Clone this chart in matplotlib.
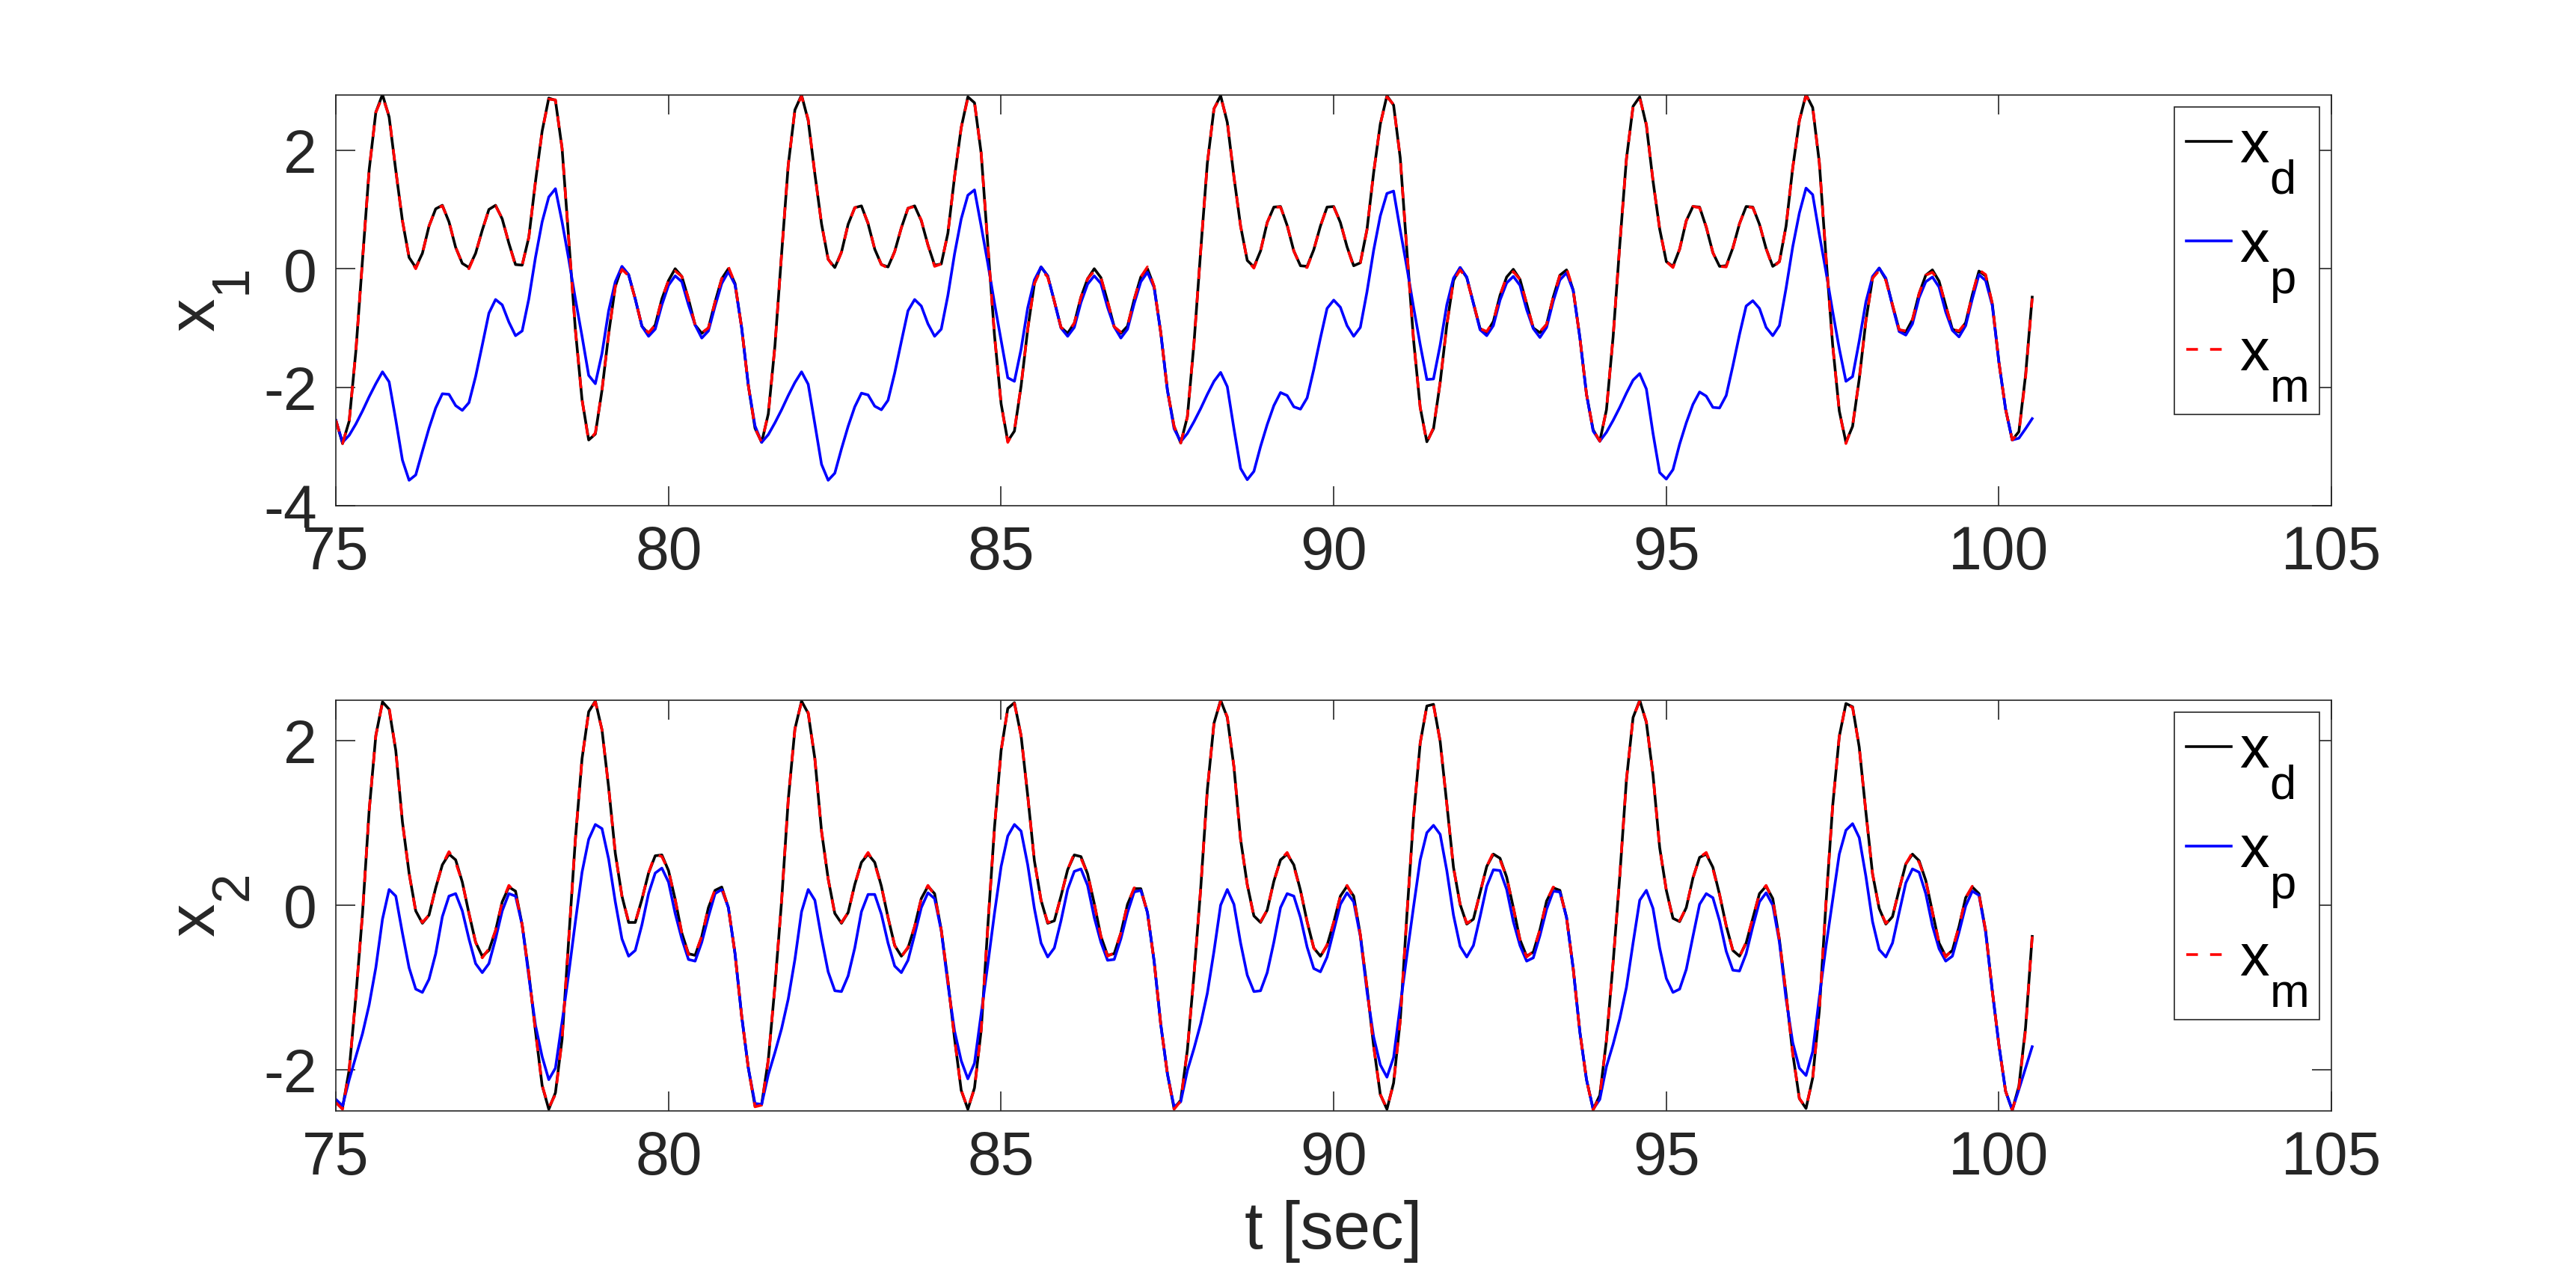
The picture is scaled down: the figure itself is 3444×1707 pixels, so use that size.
import numpy as np
import matplotlib
matplotlib.use("Agg")
import matplotlib.pyplot as plt
import matplotlib._mathtext as mathtext_internal

# sampled signals, t = 75.0 ... 100.5 in steps of 0.1 s
t_start = 75.0
dt = 0.1

x1_d = [
    -2.56, -2.95, -2.57, -1.39, 0.15, 1.67, 2.64, 2.94, 2.56, 1.66,
    0.81, 0.19, 0.02, 0.26, 0.72, 1.01, 1.07, 0.79, 0.36, 0.09,
    0.02, 0.26, 0.65, 1.00, 1.07, 0.84, 0.43, 0.07, 0.06, 0.53,
    1.47, 2.32, 2.88, 2.84, 2.03, 0.50, -1.03, -2.21, -2.89, -2.79,
    -2.05, -1.10, -0.30, 0.03, -0.10, -0.51, -0.97, -1.10, -0.95, -0.51,
    -0.20, 0.00, -0.13, -0.51, -0.95, -1.09, -1.00, -0.56, -0.17, 0.00,
    -0.25, -1.00, -1.97,
    -2.69, -2.93, -2.45, -1.30, 0.25, 1.75, 2.68, 2.93, 2.50, 1.60,
    0.76, 0.16, 0.02, 0.28, 0.75, 1.03, 1.06, 0.76, 0.33, 0.07,
    0.03, 0.29, 0.69, 1.02, 1.06, 0.81, 0.40, 0.06, 0.08, 0.60,
    1.55, 2.38, 2.90, 2.80, 1.95, 0.40, -1.12, -2.28, -2.91, -2.74,
    -1.98, -1.02, -0.25, 0.03, -0.12, -0.55, -0.99, -1.09, -0.92, -0.48,
    -0.17, 0.00, -0.15, -0.55, -0.98, -1.09, -0.97, -0.52, -0.14, 0.00,
    -0.30, -1.08, -2.05,
    -2.66, -2.94, -2.50, -1.25, 0.30, 1.78, 2.70, 2.92, 2.47, 1.55,
    0.72, 0.14, 0.03, 0.30, 0.78, 1.04, 1.05, 0.73, 0.30, 0.05,
    0.04, 0.32, 0.72, 1.04, 1.05, 0.78, 0.37, 0.05, 0.10, 0.66,
    1.62, 2.44, 2.92, 2.76, 1.87, 0.30, -1.20, -2.34, -2.92, -2.70,
    -1.92, -0.95, -0.20, 0.02, -0.15, -0.58, -1.01, -1.08, -0.89, -0.45,
    -0.14, -0.01, -0.18, -0.59, -1.00, -1.08, -0.94, -0.48, -0.11, -0.02,
    -0.36, -1.16, -2.12,
    -2.72, -2.91, -2.38, -1.15, 0.40, 1.85, 2.74, 2.90, 2.42, 1.48,
    0.67, 0.12, 0.04, 0.33, 0.81, 1.05, 1.04, 0.70, 0.27, 0.04,
    0.05, 0.35, 0.76, 1.05, 1.04, 0.75, 0.34, 0.04, 0.12, 0.72,
    1.70, 2.50, 2.94, 2.72, 1.79, 0.20, -1.28, -2.40, -2.93, -2.66,
    -1.86, -0.88, -0.16, 0.01, -0.18, -0.61, -1.03, -1.07, -0.86, -0.42,
    -0.11, -0.02, -0.21, -0.62, -1.02, -1.07, -0.91, -0.44, -0.04, -0.12,
    -0.59, -1.58, -2.37,
    -2.89, -2.75, -1.80, -0.48,
]

x1_p = [
    -2.56, -2.93, -2.81, -2.62, -2.40, -2.16, -1.94, -1.74, -1.91, -2.55,
    -3.23, -3.57, -3.48, -3.08, -2.69, -2.35, -2.11, -2.12, -2.31, -2.39,
    -2.26, -1.82, -1.29, -0.75, -0.52, -0.61, -0.90, -1.13, -1.05, -0.51,
    0.19, 0.79, 1.21, 1.35, 0.79, 0.16, -0.51, -1.14, -1.80, -1.94,
    -1.43, -0.71, -0.22, 0.04, -0.10, -0.51, -0.97, -1.14, -1.02, -0.61,
    -0.28, -0.12, -0.22, -0.61, -0.95, -1.17, -1.05, -0.63, -0.25, -0.05,
    -0.27, -1.00, -1.97,
    -2.65, -2.93, -2.80, -2.60, -2.38, -2.14, -1.92, -1.74, -1.95, -2.62,
    -3.30, -3.57, -3.45, -3.04, -2.66, -2.33, -2.10, -2.13, -2.32, -2.38,
    -2.22, -1.76, -1.23, -0.71, -0.52, -0.63, -0.93, -1.14, -1.02, -0.45,
    0.25, 0.84, 1.24, 1.33, 0.72, 0.09, -0.58, -1.21, -1.84, -1.90,
    -1.36, -0.66, -0.19, 0.03, -0.12, -0.55, -1.00, -1.14, -0.99, -0.57,
    -0.26, -0.12, -0.25, -0.65, -0.98, -1.17, -1.02, -0.59, -0.22, -0.06,
    -0.32, -1.08, -2.05,
    -2.70, -2.92, -2.78, -2.58, -2.36, -2.12, -1.90, -1.75, -1.99, -2.70,
    -3.37, -3.56, -3.42, -3.00, -2.63, -2.31, -2.09, -2.14, -2.33, -2.37,
    -2.18, -1.70, -1.17, -0.67, -0.53, -0.65, -0.96, -1.14, -0.99, -0.39,
    0.31, 0.89, 1.27, 1.31, 0.65, 0.02, -0.65, -1.28, -1.87, -1.86,
    -1.29, -0.61, -0.16, 0.02, -0.14, -0.59, -1.03, -1.13, -0.96, -0.53,
    -0.24, -0.13, -0.28, -0.69, -1.01, -1.16, -0.99, -0.55, -0.19, -0.07,
    -0.37, -1.16, -2.12,
    -2.74, -2.91, -2.76, -2.56, -2.34, -2.10, -1.88, -1.77, -2.03, -2.78,
    -3.44, -3.55, -3.39, -2.96, -2.60, -2.29, -2.08, -2.15, -2.34, -2.35,
    -2.14, -1.64, -1.11, -0.63, -0.54, -0.67, -0.99, -1.13, -0.96, -0.33,
    0.37, 0.94, 1.36, 1.25, 0.58, -0.05, -0.72, -1.35, -1.90, -1.82,
    -1.22, -0.56, -0.13, 0.01, -0.16, -0.63, -1.06, -1.12, -0.93, -0.49,
    -0.22, -0.14, -0.31, -0.73, -1.04, -1.15, -0.96, -0.51, -0.10, -0.20,
    -0.62, -1.58, -2.37,
    -2.89, -2.86, -2.70, -2.53,
]

x1_m = [
    -2.56, -2.95, -2.57, -1.39, 0.15, 1.67, 2.64, 2.90, 2.58, 1.66,
    0.81, 0.19, 0.00, 0.26, 0.72, 1.01, 1.06, 0.80, 0.36, 0.09,
    0.00, 0.26, 0.65, 1.00, 1.06, 0.85, 0.43, 0.05, 0.06, 0.53,
    1.47, 2.32, 2.86, 2.85, 2.03, 0.50, -1.03, -2.21, -2.91, -2.77,
    -2.05, -1.10, -0.30, -0.01, -0.12, -0.51, -0.97, -1.08, -0.95, -0.51,
    -0.20, -0.04, -0.13, -0.51, -0.95, -1.08, -1.00, -0.56, -0.17, 0.03,
    -0.25, -1.00, -1.97,
    -2.69, -2.93, -2.45, -1.30, 0.25, 1.75, 2.68, 2.91, 2.52, 1.60,
    0.76, 0.16, 0.00, 0.28, 0.75, 1.03, 1.05, 0.77, 0.33, 0.07,
    0.01, 0.29, 0.69, 1.02, 1.05, 0.82, 0.40, 0.04, 0.08, 0.60,
    1.55, 2.38, 2.88, 2.81, 1.95, 0.40, -1.12, -2.28, -2.93, -2.72,
    -1.98, -1.02, -0.25, -0.01, -0.14, -0.55, -0.99, -1.07, -0.92, -0.48,
    -0.17, -0.04, -0.15, -0.55, -0.98, -1.07, -0.97, -0.52, -0.14, 0.03,
    -0.30, -1.08, -2.05,
    -2.66, -2.94, -2.50, -1.25, 0.30, 1.78, 2.70, 2.90, 2.49, 1.55,
    0.72, 0.14, 0.01, 0.30, 0.78, 1.04, 1.04, 0.74, 0.30, 0.05,
    0.02, 0.32, 0.72, 1.04, 1.04, 0.79, 0.37, 0.03, 0.10, 0.66,
    1.62, 2.44, 2.90, 2.77, 1.87, 0.30, -1.20, -2.34, -2.94, -2.68,
    -1.92, -0.95, -0.20, -0.02, -0.17, -0.58, -1.01, -1.06, -0.89, -0.45,
    -0.14, -0.05, -0.18, -0.59, -1.00, -1.06, -0.94, -0.48, -0.11, 0.01,
    -0.36, -1.16, -2.12,
    -2.72, -2.91, -2.38, -1.15, 0.40, 1.85, 2.74, 2.88, 2.44, 1.48,
    0.67, 0.12, 0.02, 0.33, 0.81, 1.05, 1.03, 0.71, 0.27, 0.04,
    0.03, 0.35, 0.76, 1.05, 1.03, 0.76, 0.34, 0.02, 0.12, 0.72,
    1.70, 2.50, 2.92, 2.73, 1.79, 0.20, -1.28, -2.40, -2.95, -2.64,
    -1.86, -0.88, -0.16, -0.03, -0.20, -0.61, -1.03, -1.05, -0.86, -0.42,
    -0.11, -0.06, -0.21, -0.62, -1.02, -1.05, -0.91, -0.44, -0.02, -0.10,
    -0.59, -1.58, -2.37,
    -2.89, -2.77, -1.84, -0.50,
]

x2_d = [
    -2.38, -2.46, -2.00, -1.11, -0.10, 1.15, 2.06, 2.47, 2.38, 1.88,
    1.01, 0.39, -0.07, -0.22, -0.12, 0.21, 0.49, 0.62, 0.55, 0.28,
    -0.10, -0.45, -0.62, -0.55, -0.31, 0.04, 0.22, 0.17, -0.24, -0.83,
    -1.53, -2.19, -2.48, -2.28, -1.63, -0.41, 0.80, 1.78, 2.35, 2.48,
    2.13, 1.43, 0.63, 0.11, -0.21, -0.21, 0.07, 0.39, 0.60, 0.61,
    0.42, 0.07, -0.34, -0.59, -0.61, -0.38, -0.03, 0.18, 0.22, -0.03,
    -0.59, -1.35, -1.98,
    -2.44, -2.42, -1.88, -0.98, 0.05, 1.28, 2.14, 2.48, 2.33, 1.78,
    0.90, 0.32, -0.10, -0.22, -0.09, 0.25, 0.52, 0.62, 0.52, 0.23,
    -0.15, -0.49, -0.62, -0.52, -0.26, 0.08, 0.23, 0.14, -0.30, -0.92,
    -1.62, -2.25, -2.48, -2.22, -1.52, -0.26, 0.94, 1.88, 2.39, 2.46,
    2.06, 1.33, 0.54, 0.06, -0.22, -0.19, 0.11, 0.43, 0.61, 0.59,
    0.38, 0.02, -0.38, -0.61, -0.59, -0.34, 0.01, 0.20, 0.20, -0.09,
    -0.68, -1.45, -2.05,
    -2.47, -2.37, -1.76, -0.84, 0.20, 1.40, 2.21, 2.49, 2.28, 1.68,
    0.80, 0.25, -0.13, -0.21, -0.06, 0.29, 0.55, 0.62, 0.49, 0.18,
    -0.20, -0.52, -0.62, -0.49, -0.21, 0.11, 0.23, 0.11, -0.36, -1.00,
    -1.71, -2.30, -2.48, -2.16, -1.40, -0.12, 1.07, 1.97, 2.42, 2.44,
    1.99, 1.23, 0.46, 0.01, -0.23, -0.17, 0.15, 0.47, 0.62, 0.57,
    0.34, -0.03, -0.42, -0.62, -0.57, -0.30, 0.05, 0.21, 0.18, -0.15,
    -0.77, -1.54, -2.12,
    -2.48, -2.31, -1.64, -0.70, 0.35, 1.52, 2.28, 2.49, 2.22, 1.58,
    0.70, 0.18, -0.16, -0.20, -0.03, 0.33, 0.58, 0.62, 0.46, 0.13,
    -0.25, -0.55, -0.62, -0.46, -0.16, 0.14, 0.23, 0.08, -0.42, -1.08,
    -1.80, -2.35, -2.47, -2.10, -1.28, 0.02, 1.20, 2.05, 2.45, 2.41,
    1.92, 1.13, 0.38, -0.04, -0.23, -0.14, 0.19, 0.50, 0.62, 0.54,
    0.30, -0.08, -0.46, -0.62, -0.55, -0.26, 0.09, 0.22, 0.14, -0.31,
    -1.04, -1.70, -2.26,
    -2.49, -2.20, -1.49, -0.38,
]

x2_p = [
    -2.36, -2.44, -2.12, -1.84, -1.56, -1.21, -0.76, -0.17, 0.19, 0.11,
    -0.34, -0.76, -1.02, -1.06, -0.90, -0.59, -0.14, 0.11, 0.14, -0.07,
    -0.41, -0.71, -0.82, -0.71, -0.41, -0.07, 0.14, 0.11, -0.24, -0.87,
    -1.46, -1.84, -2.12, -1.98, -1.42, -0.83, -0.20, 0.40, 0.80, 0.98,
    0.93, 0.56, 0.04, -0.41, -0.62, -0.55, -0.24, 0.14, 0.39, 0.45,
    0.28, -0.10, -0.41, -0.66, -0.68, -0.45, -0.14, 0.14, 0.19, -0.03,
    -0.59, -1.35, -1.98,
    -2.41, -2.42, -2.06, -1.79, -1.50, -1.14, -0.66, -0.08, 0.19, 0.06,
    -0.40, -0.81, -1.04, -1.05, -0.86, -0.52, -0.08, 0.13, 0.13, -0.11,
    -0.46, -0.74, -0.82, -0.67, -0.36, -0.03, 0.15, 0.08, -0.31, -0.96,
    -1.53, -1.89, -2.11, -1.92, -1.32, -0.72, -0.10, 0.47, 0.84, 0.98,
    0.90, 0.49, -0.04, -0.46, -0.63, -0.52, -0.19, 0.19, 0.41, 0.44,
    0.24, -0.15, -0.45, -0.67, -0.66, -0.41, -0.09, 0.16, 0.18, -0.09,
    -0.68, -1.45, -2.05,
    -2.45, -2.39, -2.01, -1.74, -1.44, -1.07, -0.56, 0.00, 0.19, 0.01,
    -0.46, -0.85, -1.05, -1.04, -0.82, -0.45, -0.03, 0.14, 0.11, -0.15,
    -0.51, -0.77, -0.81, -0.63, -0.31, 0.01, 0.15, 0.04, -0.38, -1.05,
    -1.60, -1.94, -2.09, -1.85, -1.22, -0.61, -0.02, 0.55, 0.88, 0.97,
    0.86, 0.42, -0.12, -0.50, -0.63, -0.49, -0.14, 0.23, 0.43, 0.42,
    0.19, -0.20, -0.49, -0.68, -0.64, -0.37, -0.05, 0.17, 0.16, -0.15,
    -0.77, -1.54, -2.12,
    -2.48, -2.36, -1.96, -1.69, -1.38, -1.00, -0.46, 0.06, 0.18, -0.04,
    -0.52, -0.89, -1.06, -1.02, -0.78, -0.38, 0.01, 0.14, 0.09, -0.19,
    -0.56, -0.79, -0.80, -0.59, -0.26, 0.04, 0.15, 0.00, -0.45, -1.14,
    -1.67, -1.98, -2.07, -1.78, -1.12, -0.50, 0.06, 0.62, 0.91, 0.99,
    0.82, 0.35, -0.20, -0.54, -0.63, -0.46, -0.09, 0.27, 0.44, 0.40,
    0.14, -0.25, -0.53, -0.68, -0.62, -0.33, -0.01, 0.17, 0.12, -0.33,
    -1.04, -1.70, -2.26,
    -2.49, -2.24, -1.98, -1.72,
]

x2_m = [
    -2.40, -2.48, -2.00, -1.11, -0.10, 1.15, 2.06, 2.46, 2.40, 1.88,
    1.01, 0.39, -0.08, -0.21, -0.12, 0.21, 0.49, 0.65, 0.52, 0.28,
    -0.10, -0.45, -0.64, -0.53, -0.31, 0.04, 0.24, 0.15, -0.24, -0.83,
    -1.53, -2.19, -2.46, -2.30, -1.63, -0.41, 0.80, 1.78, 2.35, 2.47,
    2.13, 1.43, 0.63, 0.11, -0.20, -0.21, 0.07, 0.39, 0.62, 0.59,
    0.42, 0.07, -0.34, -0.60, -0.60, -0.38, -0.03, 0.19, 0.21, -0.03,
    -0.59, -1.35, -1.98,
    -2.45, -2.43, -1.88, -0.98, 0.05, 1.28, 2.14, 2.47, 2.34, 1.78,
    0.90, 0.32, -0.11, -0.21, -0.09, 0.25, 0.52, 0.64, 0.50, 0.23,
    -0.15, -0.49, -0.63, -0.51, -0.26, 0.08, 0.24, 0.12, -0.30, -0.92,
    -1.62, -2.25, -2.47, -2.23, -1.52, -0.26, 0.94, 1.88, 2.39, 2.45,
    2.06, 1.33, 0.54, 0.06, -0.21, -0.19, 0.11, 0.43, 0.63, 0.57,
    0.38, 0.02, -0.38, -0.62, -0.58, -0.34, 0.01, 0.21, 0.19, -0.09,
    -0.68, -1.45, -2.05,
    -2.48, -2.38, -1.76, -0.84, 0.20, 1.40, 2.21, 2.48, 2.29, 1.68,
    0.80, 0.25, -0.14, -0.20, -0.06, 0.29, 0.55, 0.64, 0.47, 0.18,
    -0.20, -0.52, -0.63, -0.48, -0.21, 0.11, 0.24, 0.09, -0.36, -1.00,
    -1.71, -2.30, -2.47, -2.17, -1.40, -0.12, 1.07, 1.97, 2.42, 2.43,
    1.99, 1.23, 0.46, 0.01, -0.22, -0.17, 0.15, 0.47, 0.64, 0.55,
    0.34, -0.03, -0.42, -0.63, -0.56, -0.30, 0.05, 0.22, 0.17, -0.15,
    -0.77, -1.54, -2.12,
    -2.49, -2.32, -1.64, -0.70, 0.35, 1.52, 2.28, 2.48, 2.23, 1.58,
    0.70, 0.18, -0.17, -0.19, -0.03, 0.33, 0.58, 0.64, 0.44, 0.13,
    -0.25, -0.55, -0.63, -0.45, -0.16, 0.14, 0.24, 0.06, -0.42, -1.08,
    -1.80, -2.35, -2.46, -2.11, -1.28, 0.02, 1.20, 2.05, 2.45, 2.40,
    1.92, 1.13, 0.38, -0.04, -0.22, -0.14, 0.19, 0.50, 0.64, 0.52,
    0.30, -0.08, -0.46, -0.63, -0.54, -0.26, 0.09, 0.23, 0.13, -0.31,
    -1.04, -1.70, -2.26,
    -2.49, -2.22, -1.52, -0.38,
]

labels = [r'$\mathregular{x_d}$', r'$\mathregular{x_p}$', r'$\mathregular{x_m}$']
y_labels = [r'$\mathregular{x_1}$', r'$\mathregular{x_2}$']
x_ticks = [75, 80, 85, 90, 95, 100, 105]

for name, s in [('x1_p', x1_p), ('x1_m', x1_m), ('x2_d', x2_d), ('x2_p', x2_p), ('x2_m', x2_m)]:
    assert len(s) == len(x1_d), (name, len(s), len(x1_d))

t = t_start + dt * np.arange(len(x1_d))

plt.rcParams['font.family'] = ['Liberation Sans', 'DejaVu Sans']
plt.rcParams['mathtext.fontset'] = 'custom'
plt.rcParams['mathtext.rm'] = 'Liberation Sans'
plt.rcParams['mathtext.it'] = 'Liberation Sans'
plt.rcParams['axes.unicode_minus'] = False

# MATLAB-like subscripts: bigger and dropped lower than mathtext default
mathtext_internal.SHRINK_FACTOR = 0.8
mathtext_internal.FontConstantsBase.sub1 = 1.0

gray = '#262626'
lw = 1.3

fig = plt.figure(figsize=(17.22, 8.54), dpi=200)
ax1 = fig.add_axes([0.1304, 0.6036, 0.7747, 0.3214])
ax2 = fig.add_axes([0.1304, 0.1300, 0.7747, 0.3214])

panels = [
    (ax1, x1_d, x1_p, x1_m, (-4, 2.93), [-4, -2, 0, 2]),
    (ax2, x2_d, x2_p, x2_m, (-2.5, 2.49), [-2, 0, 2]),
]

for i, (ax, xd, xp, xm, ylim, yticks) in enumerate(panels):
    ax.plot(t, xd, color='black', lw=lw, label=labels[0])
    ax.plot(t, xp, color='blue', lw=lw, label=labels[1])
    ax.plot(t, xm, color='red', lw=lw, dashes=(4.3, 4.5), label=labels[2])
    ax.set_xlim(75, 105)
    ax.set_ylim(*ylim)
    ax.set_xticks(x_ticks)
    ax.set_yticks(yticks)
    ax.tick_params(direction='in', length=9.4, width=0.6, top=True, right=True,
                   labelsize=29, pad=9, colors=gray)
    for sp in ax.spines.values():
        sp.set_linewidth(0.6)
        sp.set_color(gray)
    ax.set_ylabel(y_labels[i], fontsize=32, color=gray, labelpad=6)
    leg = ax.legend(loc='upper right', fontsize=28.5, frameon=True, fancybox=False,
                    edgecolor=gray, framealpha=1, borderaxespad=0.2,
                    handlelength=0.75, handletextpad=0.15, labelspacing=0.38,
                    borderpad=0.2)
    leg.get_frame().set_linewidth(0.6)

ax2.set_xlabel('t [sec]', fontsize=32, color=gray, labelpad=6)

fig.savefig('out.png', dpi=200)
